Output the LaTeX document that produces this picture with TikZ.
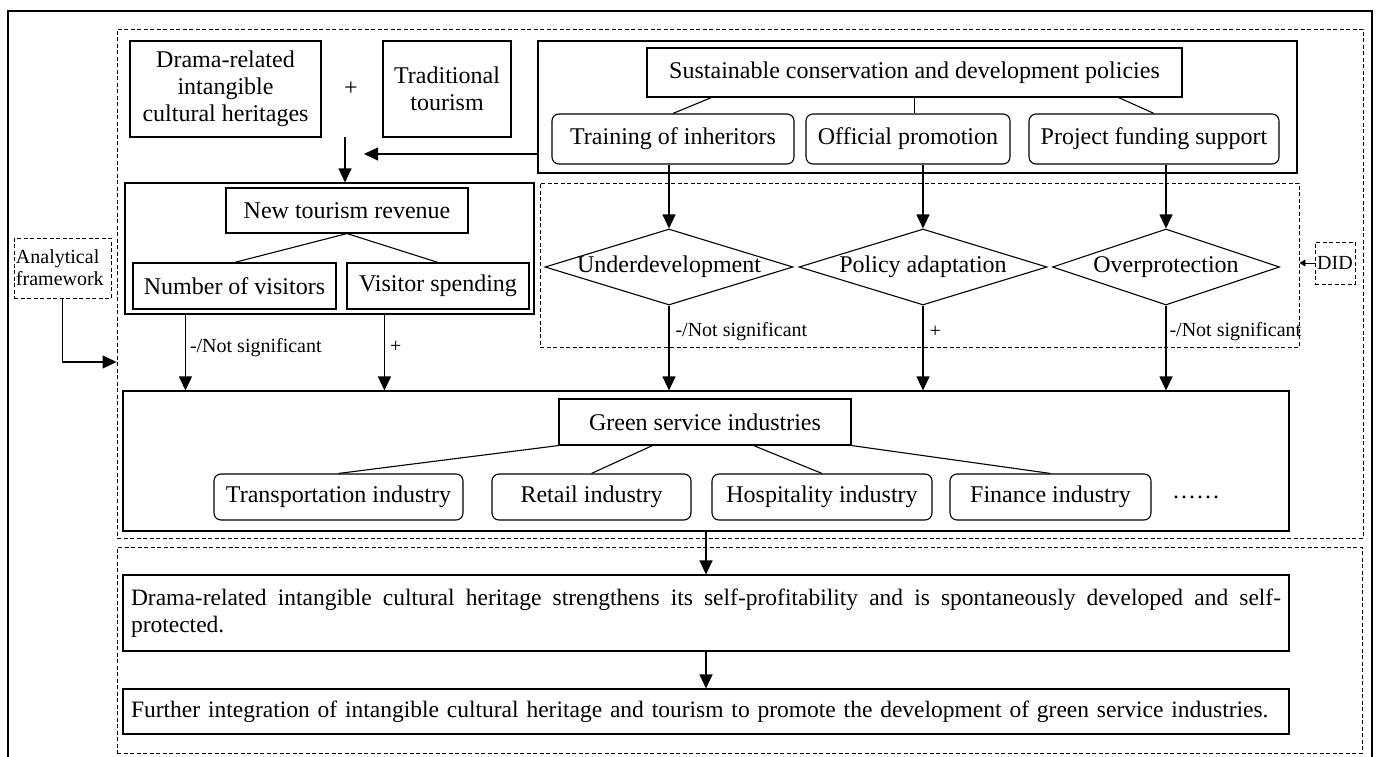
\documentclass[tikz,border=0pt]{standalone}
\usepackage{fontspec}
\setmainfont{Liberation Serif}
\usetikzlibrary{shapes.geometric, arrows.meta, positioning, calc}

\begin{document}
\begin{tikzpicture}[x=1pt, y=-1pt,
    box/.style={draw, line width=1.1pt, inner sep=0pt, align=center,
                font=\fontsize{24}{27}\selectfont},
    rbox/.style={box, rounded corners=7pt},
    dbox/.style={draw, dash pattern=on 4pt off 2.5pt, line width=0.9pt, inner sep=0pt},
    dec/.style={diamond, draw, line width=1.1pt, inner sep=0pt, minimum height=76pt,
                font=\fontsize{24}{27}\selectfont},
    lab/.style={font=\fontsize{20}{22}\selectfont, inner sep=1pt},
    arr/.style={line width=1.1pt, -{Triangle[length=14pt,width=13pt]}},
    link/.style={line width=1.1pt}]

  \useasboundingbox (0,0) rectangle (1378,757);

  % frames
  \draw[line width=1.1pt] (8,757) -- (8,11) -- (1372,11) -- (1372,757);
  \node[dbox, minimum width=1246pt, minimum height=509pt] (upper) at (740,283.5) {};
  \node[dbox, minimum width=1245pt, minimum height=206pt] (lower) at (739.5,650) {};

  % inputs
  \node[box, minimum width=191pt, minimum height=96pt] (heritage) at (225.5,89)
    {Drama-related\\intangible\\cultural heritages};
  \node[font=\fontsize{24}{27}\selectfont, inner sep=0pt] (plus) at (351,89) {+};
  \node[box, minimum width=128pt, minimum height=96pt] (tourism) at (447,89)
    {Traditional\\tourism};

  % policies
  \node[box, minimum width=759pt, minimum height=132pt] (policy) at (917.5,107) {};
  \node[box, minimum width=535pt, minimum height=49pt] (sustain) at (914.5,72.5)
    {Sustainable conservation and development policies};
  \node[rbox, minimum width=242pt, minimum height=50pt] (training) at (673,139) {Training of inheritors};
  \node[rbox, minimum width=204pt, minimum height=50pt] (official) at (908,139) {Official promotion};
  \node[rbox, minimum width=250pt, minimum height=50pt] (funding) at (1154,139) {Project funding support};
  \draw[link] ([xshift=65pt]sustain.south west) -- (training.north);
  \draw[link] (sustain.south) -- (sustain.south |- official.north);
  \draw[link] ([xshift=-64pt]sustain.south east) -- (funding.north);

  % revenue
  \node[box, minimum width=409pt, minimum height=131pt] (revenue) at (329.5,248.5) {};
  \node[box, minimum width=242pt, minimum height=45pt] (newrev) at (347,210.5) {New tourism revenue};
  \node[box, minimum width=203pt, minimum height=46pt] (visitors) at (234.5,286) {Number of visitors};
  \node[box, minimum width=182pt, minimum height=46pt] (spending) at (438,286) {Visitor spending};
  \draw[link] (newrev.south) -- (visitors.north);
  \draw[link] (newrev.south) -- (spending.north);

  \coordinate (sum) at (345,137);
  \draw[arr] (sum) -- (sum |- revenue.north);
  \coordinate (meet) at (364,154);
  \draw[arr] (meet -| policy.west) -- (meet);

  % DID part
  \node[dbox, minimum width=759pt, minimum height=164pt] (didreg) at (919.5,265) {};
  \node[dec, minimum width=248pt] (under) at (669,267) {\makebox[0pt]{Underdevelopment}};
  \node[dec, minimum width=248pt] (adapt) at (923,267) {\makebox[0pt]{Policy adaptation}};
  \node[dec, minimum width=227pt] (over) at (1166,267) {\makebox[0pt]{Overprotection}};
  \draw[arr] (under.north |- training.south) -- (under.north);
  \draw[arr] (adapt.north |- official.south) -- (adapt.north);
  \draw[arr] (over.north |- funding.south) -- (over.north);

  \node[dbox, lab, inner sep=0pt, minimum width=40pt, minimum height=42pt] (did) at (1335,263) {DID};
  \draw[line width=0.9pt, -{Triangle[length=6pt,width=7pt]}] (did.west) -- (did.west -| didreg.east);

  \node[dbox, lab, text width=93pt, inner xsep=2pt, minimum height=60pt, align=left] (frame) at (62.5,268)
    {Analytical\\framework};
  \draw[arr] (frame.south) |- (upper.west |- 0,362);

  % green service industries
  \node[box, minimum width=1166pt, minimum height=140pt] (green) at (706,461) {};
  \node[box, minimum width=292pt, minimum height=46pt] (gtitle) at (705,422) {Green service industries};
  \node[rbox, minimum width=249pt, minimum height=46pt] (transport) at (338.5,497) {Transportation industry};
  \node[rbox, minimum width=199pt, minimum height=46pt] (retail) at (591.5,497) {Retail industry};
  \node[rbox, minimum width=220pt, minimum height=46pt] (hosp) at (822,497) {Hospitality industry};
  \node[rbox, minimum width=201pt, minimum height=46pt] (finance) at (1050.5,497) {Finance industry};
  \node[font=\fontsize{24}{27}\selectfont, inner sep=0pt] (more) at (1196,497) {……};
  \draw[link] (gtitle.south west) -- (transport.north);
  \draw[link] ([xshift=94pt]gtitle.south west) -- (retail.north);
  \draw[link] ([xshift=-98pt]gtitle.south east) -- (hosp.north);
  \draw[link] (gtitle.south east) -- (finance.north);

  % effects
  \draw[arr] ([xshift=61pt]revenue.south west) coordinate (r1) -- (r1 |- green.north)
    node[lab, anchor=west, pos=0.43, xshift=3pt] (lr1) {-/Not significant};
  \draw[arr] ([xshift=260pt]revenue.south west) coordinate (r2) -- (r2 |- green.north)
    node[lab, anchor=west, pos=0.43, xshift=4pt] (lr2) {+};
  \draw[arr] (under.south) -- (under.south |- green.north)
    node[lab, anchor=west, pos=0.31, xshift=5pt] (lu) {-/Not significant};
  \draw[arr] (adapt.south) -- (adapt.south |- green.north)
    node[lab, anchor=west, pos=0.31, xshift=5pt] (la) {+};
  \draw[arr] (over.south) -- (over.south |- green.north)
    node[lab, anchor=west, pos=0.31, xshift=2pt] (lo) {-/Not significant};

  % conclusions
  \node[box, minimum width=1166pt, minimum height=76pt, text width=1150pt, align=justify,
        font=\fontsize{23.5}{27}\selectfont] (concl1) at (706,613)
    {Drama-related intangible cultural heritage strengthens its self-profitability and is spontaneously developed and self-\linebreak protected.};
  \node[box, minimum width=1166pt, minimum height=45pt, text width=1150pt, align=left,
        font=\fontsize{23.5}{27}\selectfont] (concl2) at (706,711.5)
    {Further integration of intangible cultural heritage and tourism to promote the development of green service industries.};
  \draw[arr] (green.south) -- (green.south |- concl1.north);
  \draw[arr] (concl1.south) -- (concl2.north);
\end{tikzpicture}
\end{document}
